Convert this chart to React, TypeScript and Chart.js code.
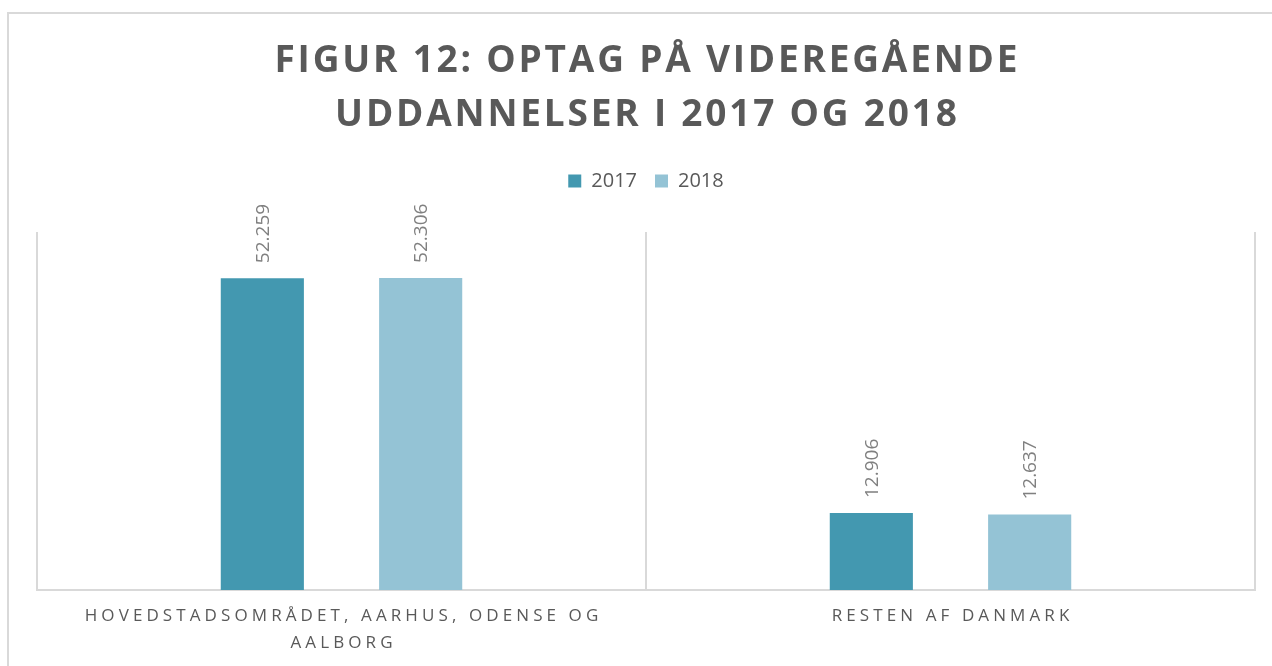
import React, { useEffect, useRef } from 'react';
import { Chart, registerables } from 'chart.js';

Chart.register(...registerables);

const categories: (string | string[])[] = [
  ['HOVEDSTADSOMRÅDET, AARHUS, ODENSE OG', 'AALBORG'],
  'RESTEN AF DANMARK',
];
const seriesLabels = ['2017', '2018'];
const values2017 = [52259, 12906];
const values2018 = [52306, 12637];
const yMin = 0;
const yMax = 60000;
const titleLines = ['FIGUR 12: OPTAG PÅ VIDEREGÅENDE', 'UDDANNELSER I 2017 OG 2018'];

const color2017 = '#4398b0';
const color2018 = '#94c3d5';
const textColor = '#595959';
const labelColor = '#808080';
const gridColor = '#d9d9d9';

const fmt = (n: number) => String(n).replace(/\B(?=(\d{3})+(?!\d))/g, '.');

const TITLE_SPACING = 2.8;
const TICK_SPACING = 4.1;

const spacingPlugin = {
  id: 'letterSpacingPatch',
  afterLayout(chart: any) {
    const tb = chart.titleBlock;
    if (tb && !tb.__sp) {
      const orig = tb.draw;
      tb.draw = function (...a: any[]) {
        const c = this.ctx;
        c.save();
        c.letterSpacing = TITLE_SPACING + 'px';
        c.translate(TITLE_SPACING / 2, 0);
        orig.apply(this, a);
        c.restore();
      };
      tb.__sp = true;
    }
    const xs = chart.scales.x;
    if (xs && !xs.__sp) {
      const orig = xs.drawLabels;
      xs.drawLabels = function (...a: any[]) {
        const c = this.ctx;
        c.save();
        c.letterSpacing = TICK_SPACING + 'px';
        c.translate(TICK_SPACING / 2, 0);
        orig.apply(this, a);
        c.restore();
      };
      xs.__sp = true;
    }
  },
};

const dataLabelPlugin = {
  id: 'barValueLabels',
  afterDatasetsDraw(chart: any) {
    const ctx = chart.ctx;
    chart.data.datasets.forEach((ds: any, i: number) => {
      const meta = chart.getDatasetMeta(i);
      meta.data.forEach((bar: any, j: number) => {
        ctx.save();
        ctx.translate(bar.x + 1, bar.y - 15);
        ctx.rotate(-Math.PI / 2);
        ctx.font = '19px "Open Sans"';
        ctx.fillStyle = labelColor;
        ctx.textAlign = 'left';
        ctx.textBaseline = 'middle';
        ctx.fillText(fmt(ds.data[j]), 0, 0);
        ctx.restore();
      });
    });
  },
};

export default function App() {
  const ref = useRef<HTMLCanvasElement>(null);

  useEffect(() => {
    if (!ref.current) return;
    const chart = new Chart(ref.current, {
      type: 'bar',
      data: {
        labels: categories,
        datasets: [
          {
            label: seriesLabels[0],
            data: values2017,
            backgroundColor: color2017,
            borderWidth: 0,
            categoryPercentage: 0.52,
            barPercentage: 0.525,
          },
          {
            label: seriesLabels[1],
            data: values2018,
            backgroundColor: color2018,
            borderWidth: 0,
            categoryPercentage: 0.52,
            barPercentage: 0.525,
          },
        ],
      },
      options: {
        responsive: false,
        animation: false,
        devicePixelRatio: 1,
        layout: { padding: { left: 37, right: 17, top: 0, bottom: 0 } },
        plugins: {
          title: {
            display: true,
            text: titleLines,
            color: textColor,
            font: { family: '"Open Sans"', size: 37, weight: 'bold', lineHeight: '54px' },
            padding: { top: 34, bottom: 11 },
          },
          subtitle: {
            display: true,
            text: '',
            weight: 500,
            position: 'top',
            font: { size: 1, lineHeight: '1px' },
            padding: { top: 30, bottom: 0 },
          },
          legend: {
            display: true,
            position: 'top',
            labels: {
              boxWidth: 13,
              boxHeight: 13,
              padding: 18,
              color: textColor,
              font: { family: '"Open Sans"', size: 20 },
            },
          },
          tooltip: { enabled: false },
        },
        scales: {
          x: {
            grid: { offset: true, color: gridColor, lineWidth: 2, drawTicks: false },
            border: { color: gridColor, width: 2 },
            ticks: {
              color: textColor,
              font: { family: '"Open Sans"', size: 17, lineHeight: '27px' },
              padding: 13,
              maxRotation: 0,
              minRotation: 0,
              autoSkip: false,
            },
            afterFit: (s: any) => {
              s.height = 76;
            },
          },
          y: { display: false, min: yMin, max: yMax },
        },
      } as any,
      plugins: [spacingPlugin, dataLabelPlugin],
    });
    return () => chart.destroy();
  }, []);

  return (
    <div style={{ position: 'fixed', left: 0, top: 0, width: 1272, height: 666, overflow: 'hidden', background: '#fff' }}>
      <div
        style={{
          position: 'absolute',
          left: 7,
          top: 12,
          width: 1300,
          height: 700,
          border: '2px solid #d9d9d9',
          boxSizing: 'border-box',
        }}
      />
      <canvas ref={ref} width={1272} height={666} style={{ position: 'absolute', left: 0, top: 0, display: 'block' }} />
    </div>
  );
}
